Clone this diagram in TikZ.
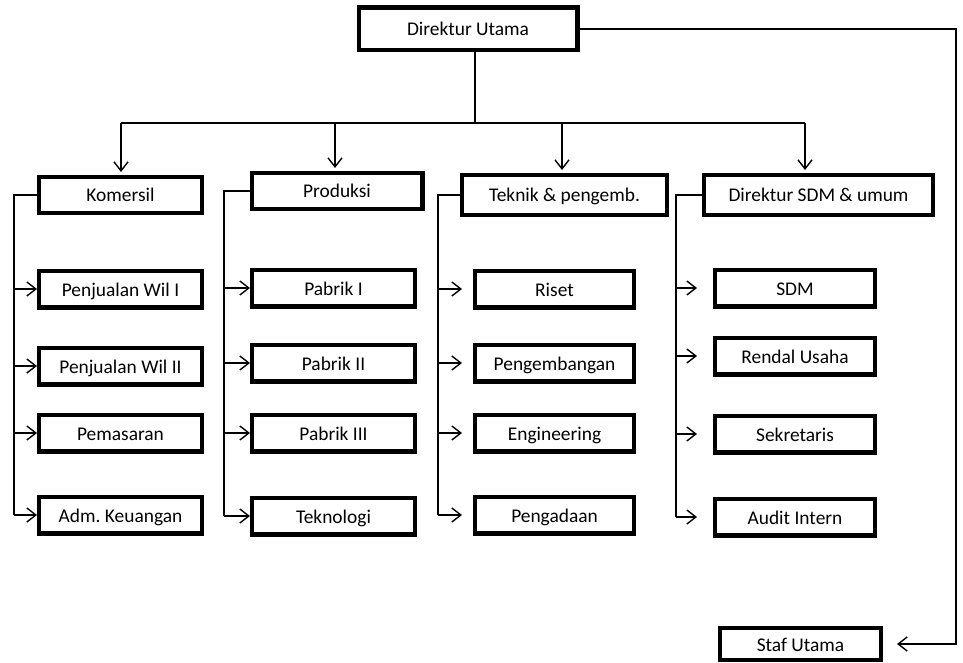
\documentclass[tikz,border=0pt]{standalone}
\usepackage{fontspec}
\setmainfont{Carlito}
\usetikzlibrary{arrows.meta}
\frenchspacing

\begin{document}
\begin{tikzpicture}[x=0.5pt,y=-0.5pt,
	box/.style={draw,line width=2.2pt,inner sep=0pt,minimum width=81.3pt,minimum height=18.3pt,
		text height=8.5pt,text depth=1.5pt,font=\fontsize{9.7pt}{11pt}\selectfont},
	arr/.style={line width=0.7pt,-{Straight Barb[length=4.5pt,width=7pt]}},
	ln/.style={line width=0.7pt}]
\useasboundingbox (0,0) rectangle (963,663);

\draw 	(468,29) node[box,minimum width=109.3pt,minimum height=21.3pt](u0){Direktur Utama};

\draw 	(120.5,195) node[box,minimum height=17.8pt](a0){Komersil}
		(337,193)   node[box,minimum width=85.3pt,minimum height=17.8pt,yshift=1pt](b0){Produksi}
		(564.5,195) node[box,minimum width=102.3pt,minimum height=19.8pt](c0){Teknik \& pengemb.}
		(818.5,195) node[box,minimum width=114.3pt,minimum height=19.8pt](d0){Direktur SDM \& umum};

\draw 	(120.5,289) node[box](a1){Penjualan Wil I}   (120.5,366) node[box](a2){Penjualan Wil II}
		(120.5,433) node[box](a3){Pemasaran}         (120.5,515) node[box](a4){Adm. Keuangan};
\draw 	(333.5,288) node[box](b1){Pabrik I}          (333.5,363) node[box](b2){Pabrik II}
		(333.5,433) node[box](b3){Pabrik III}        (333.5,516) node[box](b4){Teknologi};
\draw 	(554.5,289) node[box,minimum width=79.3pt](c1){Riset}
		(554.5,363) node[box,minimum width=79.3pt](c2){Pengembangan}
		(554.5,433) node[box,minimum width=79.3pt](c3){Engineering}
		(554.5,515) node[box,minimum width=79.3pt](c4){Pengadaan};
\draw 	(795,288) node[box,minimum width=79.8pt](d1){SDM}
		(795,356) node[box,minimum width=79.8pt](d2){Rendal Usaha}
		(795,434) node[box,minimum width=79.8pt](d3){Sekretaris}
		(795,517) node[box,minimum width=79.8pt](d4){Audit Intern};

\draw 	(800.5,644) node[box,minimum width=80.3pt,minimum height=15.8pt](s0){Staf Utama};

% bus under the top box
\coordinate (j0) at (475,123);
\coordinate (j1) at (121,123);  \coordinate (j2) at (335,123);
\coordinate (j3) at (562,123);  \coordinate (j4) at (805,123);
\draw[ln] (u0.south-|j0) -- (j0);
\draw[ln] (j1) -- (j4);
\draw[arr,shorten >=1.5pt] (j1) -- (j1|-a0.north);
\draw[arr,shorten >=1.5pt] (j2) -- (j2|-b0.north);
\draw[arr,shorten >=1.5pt] (j3) -- (j3|-c0.north);
\draw[arr,shorten >=1.5pt] (j4) -- (j4|-d0.north);

% side rails
\foreach \c/\x/\s in {a/14/0,b/224/0,c/438/5.5,d/676/8}{
	\coordinate (r\c) at (\x,0);
	\draw[ln] (\c0.west) -- (r\c|-\c0.west) -- (r\c|-\c4.west);
	\foreach \i in {1,...,4}
		\draw[arr,shorten >=\s pt] (r\c|-\c\i.west) -- (\c\i.west);
}

\coordinate (k) at (956,29);
\draw[arr,shorten >=7pt] (u0.east) -- (k) |- (s0.east);
\end{tikzpicture}
\end{document}
